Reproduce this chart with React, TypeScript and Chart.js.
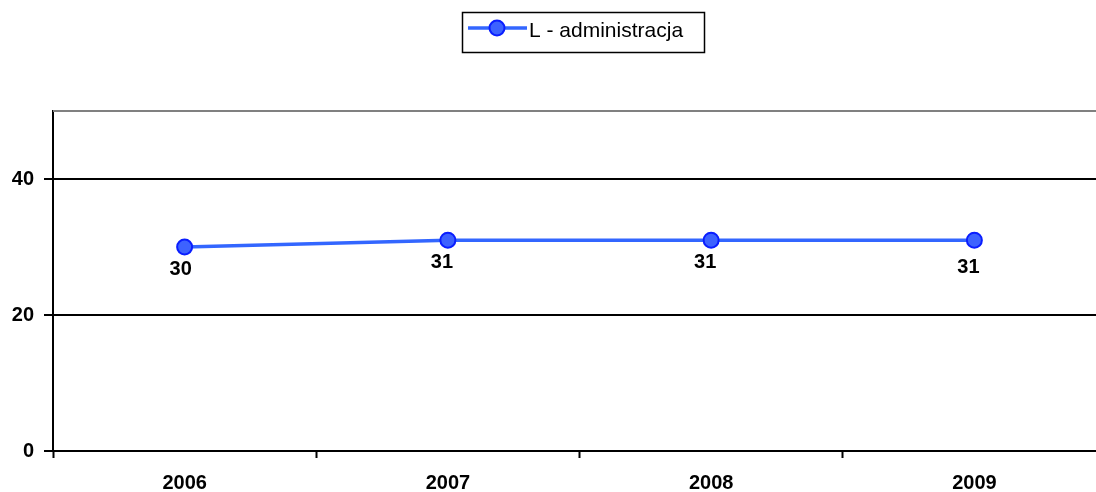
import React, { useEffect, useRef } from "react";
import { Chart, registerables } from "chart.js";

Chart.register(...registerables);

const categories = ["2006", "2007", "2008", "2009"];
const seriesName = "L - administracja";
const values = [30, 31, 31, 31];
const yTicks = [0, 20, 40];
const yMax = 50;

const LINE = "#3366ff";
const POINT_FILL = "#3d62ff";
const POINT_BORDER = "#0a1eff";
const FONT = "'Liberation Sans', Arial, sans-serif";

const legendPlugin = {
  id: "customLegend",
  afterDraw(chart: any) {
    const ctx = chart.ctx;
    ctx.save();
    ctx.strokeStyle = "#000";
    ctx.lineWidth = 1.5;
    ctx.strokeRect(462.5, 12.5, 242, 40);
    ctx.strokeStyle = LINE;
    ctx.lineWidth = 3.5;
    ctx.beginPath();
    ctx.moveTo(468, 28);
    ctx.lineTo(527, 28);
    ctx.stroke();
    ctx.beginPath();
    ctx.arc(497, 28, 7.5, 0, Math.PI * 2);
    ctx.fillStyle = POINT_FILL;
    ctx.fill();
    ctx.lineWidth = 2;
    ctx.strokeStyle = POINT_BORDER;
    ctx.stroke();
    ctx.fillStyle = "#000";
    ctx.font = `21px ${FONT}`;
    ctx.textBaseline = "middle";
    ctx.textAlign = "left";
    ctx.fillText(seriesName, 529, 31);
    ctx.restore();
  },
};

const labelPlugin = {
  id: "valueLabels",
  afterDatasetsDraw(chart: any) {
    const ctx = chart.ctx;
    const meta = chart.getDatasetMeta(0);
    ctx.save();
    ctx.fillStyle = "#000";
    ctx.font = `bold 20px ${FONT}`;
    ctx.textAlign = "center";
    ctx.textBaseline = "middle";
    meta.data.forEach((pt: any, i: number) => {
      const dx = i === 0 ? -4 : -6;
      const dy = i === 3 ? 27 : 22;
      ctx.fillText(String(values[i]), pt.x + dx, pt.y + dy);
    });
    ctx.restore();
  },
};

const topBorderPlugin = {
  id: "topBorder",
  beforeDatasetsDraw(chart: any) {
    const { ctx, chartArea } = chart;
    ctx.save();
    ctx.strokeStyle = "#808080";
    ctx.lineWidth = 2;
    ctx.beginPath();
    ctx.moveTo(chartArea.left, chartArea.top);
    ctx.lineTo(chartArea.right, chartArea.top);
    ctx.stroke();
    ctx.restore();
  },
};

export default function App() {
  const ref = useRef<HTMLCanvasElement | null>(null);

  useEffect(() => {
    if (!ref.current) return;
    const chart = new Chart(ref.current, {
      type: "line",
      data: {
        labels: categories,
        datasets: [
          {
            label: seriesName,
            data: values,
            borderColor: LINE,
            borderWidth: 3.5,
            backgroundColor: POINT_FILL,
            pointBackgroundColor: POINT_FILL,
            pointBorderColor: POINT_BORDER,
            pointBorderWidth: 2,
            pointRadius: 7.5,
            tension: 0,
          },
        ],
      },
      options: {
        animation: false,
        responsive: false,
        layout: { padding: { top: 111, right: 10, left: 0, bottom: 0 } },
        plugins: {
          legend: { display: false },
          tooltip: { enabled: false },
        },
        scales: {
          x: {
            offset: true,
            grid: {
              offset: true,
              drawOnChartArea: false,
              drawTicks: true,
              tickLength: 7,
              tickWidth: 2,
              tickColor: "#000",
            },
            border: { display: false },
            ticks: {
              color: "#000",
              font: { family: FONT, size: 20, weight: "bold" },
              padding: 13,
              maxRotation: 0,
            },
            afterFit: (s: any) => {
              s.height = 41;
            },
          },
          y: {
            min: 0,
            max: yMax,
            afterBuildTicks: (s: any) => {
              s.ticks = yTicks.map((v) => ({ value: v }));
            },
            grid: {
              color: "#000",
              lineWidth: 2,
              tickLength: 9,
              tickColor: "#000",
              tickWidth: 2,
            },
            border: { display: true, color: "#000", width: 2 },
            ticks: {
              color: "#000",
              font: { family: FONT, size: 20, weight: "bold" },
              padding: 10,
            },
            afterFit: (s: any) => {
              s.width = 53;
            },
          },
        },
      },
      plugins: [topBorderPlugin, labelPlugin, legendPlugin],
    });
    return () => chart.destroy();
  }, []);

  return (
    <div style={{ position: "fixed", left: 0, top: 0, width: 1116, height: 492, background: "#fff" }}>
      <canvas ref={ref} width={1116} height={492} style={{ display: "block" }} />
    </div>
  );
}
